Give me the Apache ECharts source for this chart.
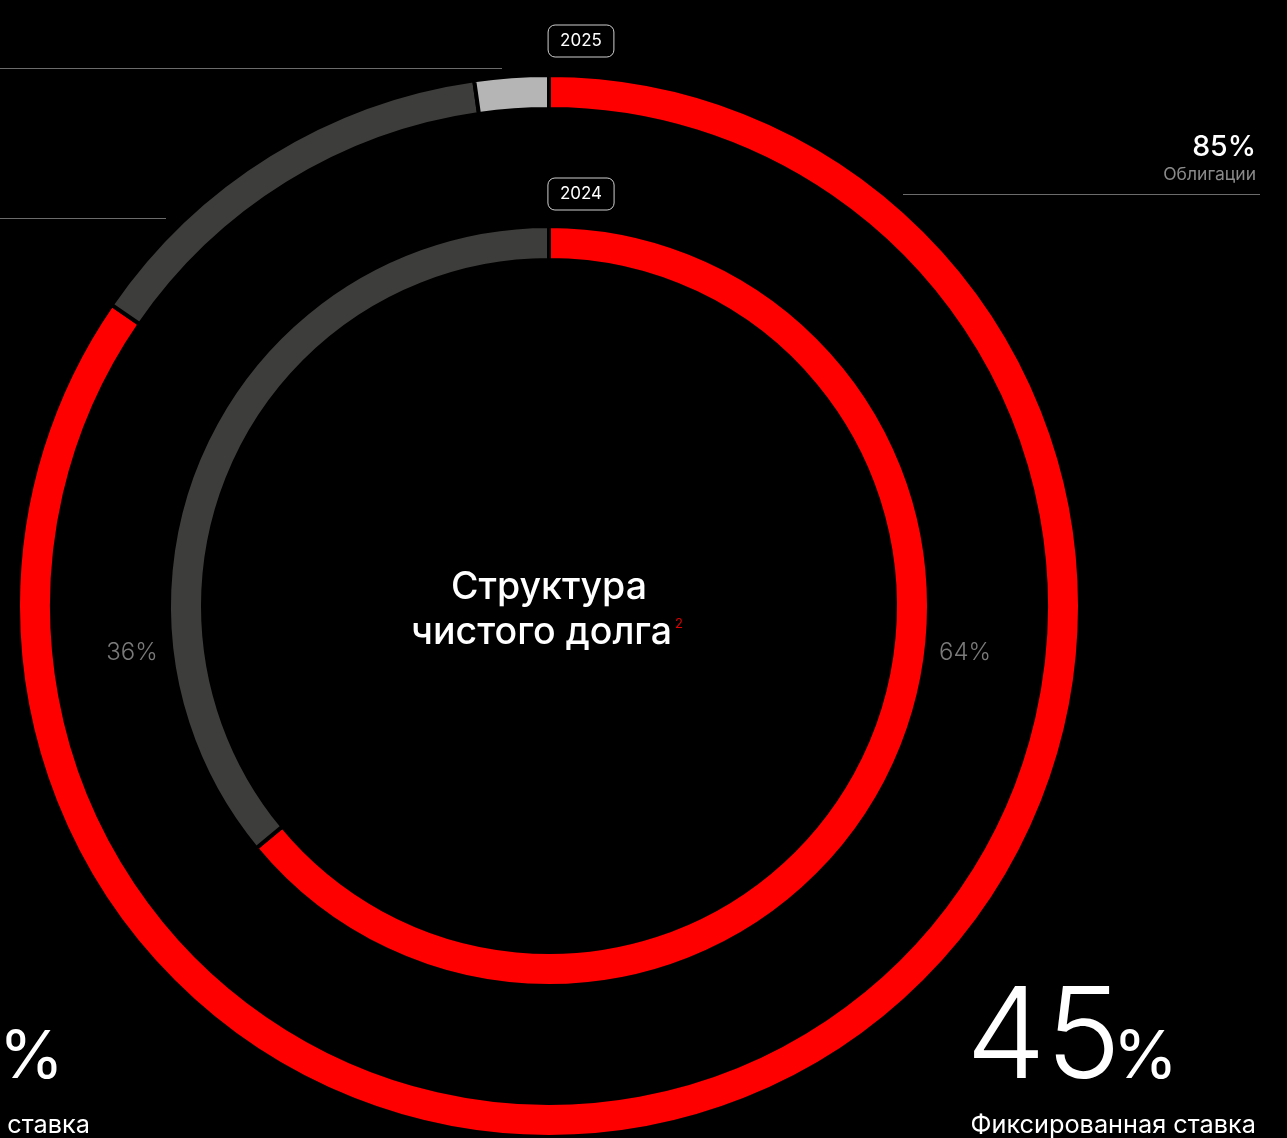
<!DOCTYPE html>
<html>
<head>
<meta charset="utf-8">
<script src="https://cdn.jsdelivr.net/npm/echarts@6/dist/echarts.min.js"></script>
<style>
html,body{margin:0;padding:0;background:#000;}
#chart{width:1287px;height:1138px;}
</style>
</head>
<body>
<div id="chart"></div>
<script>
const years = ['2024', '2025'];
const outerNames = ['Облигации', 'Кредиты', 'Прочее'];
const outerValues = [84.6, 13.15, 2.25];   // 2025
const outerLabels = ['85%', '13%', '2%'];
const innerNames = ['Облигации', 'Кредиты'];
const innerValues = [64, 36];              // 2024
const rateNames = ['Фиксированная ставка', 'Плавающая ставка'];
const rateValues = [45, 55];
const title = ['Структура', 'чистого долга'];

const outerColors = ['#ff0000', '#3d3d3b', '#b5b5b5'];
const innerColors = ['#ff0000', '#3d3d3b'];
const FONT = 'Inter, Roboto, sans-serif';

const chart = echarts.init(document.getElementById('chart'));

function pieData(names, values, colors) {
  return values.map((v, i) => ({ name: names[i], value: v, itemStyle: { color: colors[i] } }));
}

function tag(text, x, y) {
  return {
    type: 'text', x: x, y: y,
    style: {
      text: text, fill: '#ffffff', font: '400 17px ' + FONT,
      align: 'center', verticalAlign: 'middle',
      borderColor: '#cfcfcf', borderWidth: 1, borderRadius: 7,
      padding: [8, 12, 7, 12]
    }
  };
}
function hline(x1, x2, y) {
  return { type: 'line', shape: { x1: x1, y1: y, x2: x2, y2: y }, style: { stroke: '#6b6b6b', lineWidth: 1 } };
}
function txt(text, x, y, font, fill, align) {
  return { type: 'text', x: x, y: y, style: { text: text, fill: fill, font: font, align: align, verticalAlign: 'middle' } };
}

chart.setOption({
  backgroundColor: '#000',
  animation: false,
  series: [
    {
      type: 'pie', center: [549, 606], radius: [497, 531], startAngle: 90, clockwise: true,
      label: { show: false }, labelLine: { show: false }, silent: true,
      itemStyle: { borderColor: '#000', borderWidth: 4 },
      data: pieData(outerNames, outerValues, outerColors)
    },
    {
      type: 'pie', center: [549, 606], radius: [346, 380], startAngle: 90, clockwise: true,
      label: { show: false }, labelLine: { show: false }, silent: true,
      itemStyle: { borderColor: '#000', borderWidth: 4 },
      data: pieData(innerNames, innerValues, innerColors)
    }
  ],
  graphic: [
    hline(0, 502, 68.5),
    hline(0, 166, 218.5),
    hline(903, 1260, 194.5),
    tag(years[1], 581, 41),
    tag(years[0], 581, 194),
    txt(outerLabels[0], 1256, 147, '500 28.5px ' + FONT, '#fff', 'right'),
    txt(outerNames[0], 1256, 175, '400 17.5px ' + FONT, '#8a8a8a', 'right'),
    txt(title[0], 549, 588, '500 37.5px ' + FONT, '#fff', 'center'),
    txt(title[1], 672, 633, '500 37.5px ' + FONT, '#fff', 'right'),
    txt('2', 675, 624, '400 13px ' + FONT, '#e00000', 'left'),
    txt(innerValues[1] + '%', 132, 653, '300 24px ' + FONT, '#7a7a7a', 'center'),
    txt(innerValues[0] + '%', 965, 653, '300 24px ' + FONT, '#7a7a7a', 'center'),
    txt(String(rateValues[0]), 966, 1040, '300 127px ' + FONT, '#fff', 'left'),
    txt('%', 1113, 1058, '400 66px ' + FONT, '#fff', 'left'),
    txt(rateNames[0], 1256, 1125, '400 25.3px ' + FONT, '#fff', 'right'),
    txt(String(rateValues[1]), 4, 1040, '300 127px ' + FONT, '#fff', 'right'),
    txt('%', -1, 1058, '400 66px ' + FONT, '#fff', 'left'),
    txt(rateNames[1], 90, 1125, '400 25.3px ' + FONT, '#fff', 'right')
  ]
});
</script>
</body>
</html>
